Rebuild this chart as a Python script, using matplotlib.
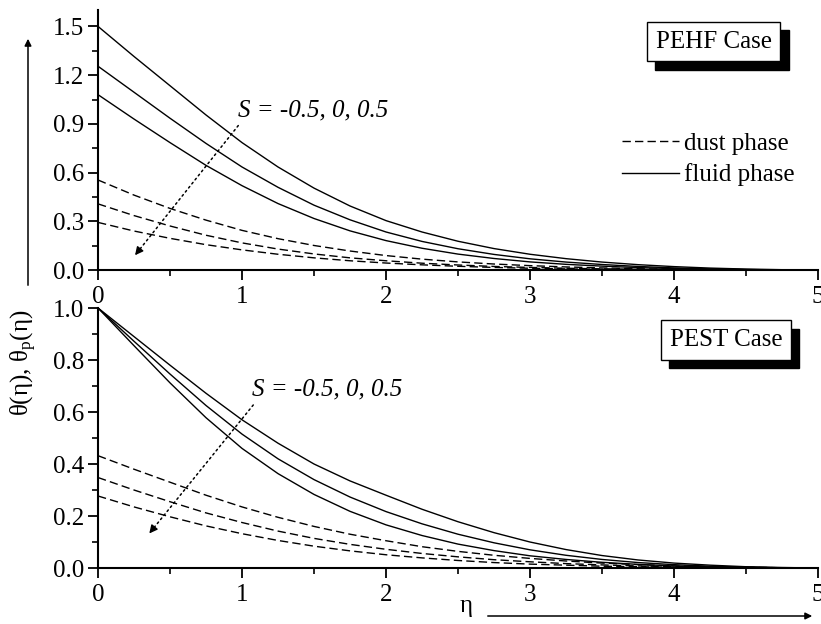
import matplotlib
matplotlib.use("Agg")
import matplotlib.pyplot as plt
import matplotlib.transforms as mtransforms
from matplotlib.ticker import MultipleLocator

plt.rcParams['font.family'] = ['Liberation Serif', 'DejaVu Serif']
plt.rcParams['mathtext.fontset'] = 'custom'
plt.rcParams['mathtext.rm'] = 'Liberation Serif'
plt.rcParams['mathtext.it'] = 'Liberation Serif:italic'

eta = [0.0, 0.25, 0.5, 0.75, 1.0, 1.25, 1.5, 1.75, 2.0, 2.25, 2.5, 2.75,
       3.0, 3.25, 3.5, 3.75, 4.0, 4.25, 4.5, 4.75, 5.0]
S_values = [-0.5, 0, 0.5]

# PEHF case, fluid phase theta(eta) for S = -0.5, 0, 0.5
pehf_fluid = [
    [1.50, 1.315, 1.135, 0.955, 0.785, 0.635, 0.505, 0.395, 0.305, 0.235, 0.178, 0.133,
     0.098, 0.071, 0.050, 0.034, 0.022, 0.013, 0.007, 0.003, 0.0],
    [1.255, 1.095, 0.935, 0.78, 0.635, 0.51, 0.40, 0.31, 0.235, 0.177, 0.132, 0.097,
     0.07, 0.05, 0.035, 0.023, 0.014, 0.008, 0.004, 0.0015, 0.0],
    [1.08, 0.93, 0.785, 0.645, 0.52, 0.41, 0.318, 0.242, 0.182, 0.135, 0.099, 0.072,
     0.051, 0.036, 0.025, 0.016, 0.01, 0.006, 0.003, 0.001, 0.0],
]
# PEHF case, dust phase theta_p(eta)
pehf_dust = [
    [0.555, 0.462, 0.38, 0.308, 0.245, 0.194, 0.152, 0.118, 0.09, 0.068, 0.051, 0.038,
     0.028, 0.02, 0.014, 0.009, 0.006, 0.004, 0.002, 0.001, 0.0],
    [0.408, 0.336, 0.272, 0.215, 0.168, 0.13, 0.10, 0.076, 0.058, 0.043, 0.032, 0.023,
     0.017, 0.012, 0.008, 0.005, 0.003, 0.002, 0.001, 0.0, 0.0],
    [0.294, 0.241, 0.196, 0.157, 0.125, 0.098, 0.076, 0.058, 0.044, 0.033, 0.024, 0.017,
     0.012, 0.008, 0.006, 0.004, 0.002, 0.001, 0.001, 0.0, 0.0],
]
# PEST case, fluid phase
pest_fluid = [
    [1.0, 0.89, 0.78, 0.672, 0.57, 0.48, 0.40, 0.335, 0.28, 0.226, 0.178, 0.136,
     0.10, 0.071, 0.048, 0.031, 0.019, 0.011, 0.005, 0.002, 0.0],
    [1.0, 0.872, 0.746, 0.625, 0.515, 0.42, 0.34, 0.273, 0.217, 0.17, 0.13, 0.097,
     0.07, 0.049, 0.033, 0.021, 0.013, 0.007, 0.003, 0.001, 0.0],
    [1.0, 0.855, 0.712, 0.578, 0.46, 0.363, 0.283, 0.218, 0.166, 0.125, 0.092, 0.067,
     0.047, 0.033, 0.022, 0.014, 0.008, 0.004, 0.002, 0.001, 0.0],
]
# PEST case, dust phase
pest_dust = [
    [0.432, 0.38, 0.33, 0.28, 0.235, 0.195, 0.16, 0.13, 0.105, 0.082, 0.064, 0.049,
     0.037, 0.027, 0.019, 0.013, 0.008, 0.005, 0.003, 0.001, 0.0],
    [0.348, 0.30, 0.255, 0.212, 0.175, 0.142, 0.114, 0.091, 0.072, 0.056, 0.043, 0.032,
     0.024, 0.017, 0.012, 0.008, 0.005, 0.003, 0.002, 0.001, 0.0],
    [0.277, 0.235, 0.197, 0.162, 0.132, 0.106, 0.084, 0.066, 0.051, 0.039, 0.029, 0.021,
     0.015, 0.011, 0.007, 0.005, 0.003, 0.002, 0.001, 0.0, 0.0],
]

FS = 18
fig = plt.figure(figsize=(8.21, 6.24), dpi=100)
ax_top = fig.add_axes([0.1194, 0.567, 0.877, 0.4167])
ax_bot = fig.add_axes([0.1194, 0.0897, 0.877, 0.4167])


def style_axis(ax, ymax, ystep):
    ax.set_xlim(0, 5)
    ax.set_ylim(0, ymax)
    for side in ('top', 'right'):
        ax.spines[side].set_visible(False)
    for side in ('left', 'bottom'):
        ax.spines[side].set_linewidth(1.5)
    ax.xaxis.set_major_locator(MultipleLocator(1))
    ax.xaxis.set_minor_locator(MultipleLocator(0.5))
    ax.yaxis.set_major_locator(MultipleLocator(ystep))
    ax.yaxis.set_minor_locator(MultipleLocator(ystep / 2))
    ax.tick_params(which='major', direction='out', length=7.5, width=1.3, labelsize=FS)
    ax.tick_params(which='minor', direction='out', length=4.5, width=1.2)
    ax.tick_params(axis='x', pad=4)
    ax.tick_params(axis='y', pad=2.5)
    ax.set_facecolor('none')


def draw_case(ax, fluid, dust):
    for i, ys in enumerate(dust):
        ax.plot(eta, ys, color='black', lw=1.0, dashes=(6, 3),
                label='dust phase' if i == 0 else None, clip_on=False)
    for i, ys in enumerate(fluid):
        ax.plot(eta, ys, color='black', lw=1.0,
                label='fluid phase' if i == 0 else None, clip_on=False)


def case_box(ax, text, x, y):
    shadow = mtransforms.offset_copy(ax.transAxes, fig=fig, x=6, y=-6, units='points')
    ax.text(x, y, text, transform=shadow, fontsize=FS, ha='center', va='center',
            color='black', bbox=dict(boxstyle='square,pad=0.35', fc='black', ec='black', lw=1))
    ax.text(x, y, text, transform=ax.transAxes, fontsize=FS, ha='center', va='center',
            bbox=dict(boxstyle='square,pad=0.35', fc='white', ec='black', lw=1))


def s_arrow(ax, tail, head, label_xy):
    ax.annotate('', xy=head, xytext=tail,
                arrowprops=dict(arrowstyle='-', lw=1.1, ls=(0, (1.2, 2.2)), color='black',
                                shrinkA=0, shrinkB=0))
    back = (head[0] + 0.04 * (tail[0] - head[0]), head[1] + 0.04 * (tail[1] - head[1]))
    ax.annotate('', xy=head, xytext=back,
                arrowprops=dict(arrowstyle='-|>', lw=1, color='black', mutation_scale=12,
                                shrinkA=0, shrinkB=0))
    ax.text(label_xy[0], label_xy[1], 'S = -0.5, 0, 0.5', fontsize=FS, style='italic',
            ha='left', va='center')


style_axis(ax_top, 1.6, 0.3)
ax_top.set_yticks([0.0, 0.3, 0.6, 0.9, 1.2, 1.5])
ax_top.yaxis.set_major_formatter(plt.FormatStrFormatter('%.1f'))
draw_case(ax_top, pehf_fluid, pehf_dust)
case_box(ax_top, 'PEHF Case', 0.855, 0.879)
s_arrow(ax_top, (0.974, 0.89), (0.257, 0.092), (0.973, 0.983))
ax_top.legend(loc='center right', bbox_to_anchor=(0.982, 0.427), frameon=False,
              fontsize=FS, handlelength=2.3, handletextpad=0.2, labelspacing=0.35,
              borderaxespad=0.0)

style_axis(ax_bot, 1.0, 0.2)
ax_bot.yaxis.set_major_formatter(plt.FormatStrFormatter('%.1f'))
draw_case(ax_bot, pest_fluid, pest_dust)
case_box(ax_bot, 'PEST Case', 0.872, 0.877)
s_arrow(ax_bot, (1.078, 0.627), (0.356, 0.133), (1.07, 0.685))

# axis titles with arrows
fig.text(24 / 821, 1 - 363 / 624, r'θ(η), θ$_\mathrm{p}$(η)', rotation=90,
         fontsize=FS, ha='center', va='center')
fig.add_artist(matplotlib.patches.FancyArrowPatch(
    (28 / 821, 1 - 288 / 624), (28 / 821, 1 - 36 / 624), transform=fig.transFigure,
    arrowstyle='-|>', mutation_scale=10, lw=1.1, color='black'))
fig.text(466 / 821, 1 - 606 / 624, 'η', fontsize=FS, ha='center', va='center')
fig.add_artist(matplotlib.patches.FancyArrowPatch(
    (485 / 821, 1 - 616 / 624), (815 / 821, 1 - 616 / 624), transform=fig.transFigure,
    arrowstyle='-|>', mutation_scale=10, lw=1.1, color='black'))

fig.savefig('out.png', dpi=100, facecolor='white')
